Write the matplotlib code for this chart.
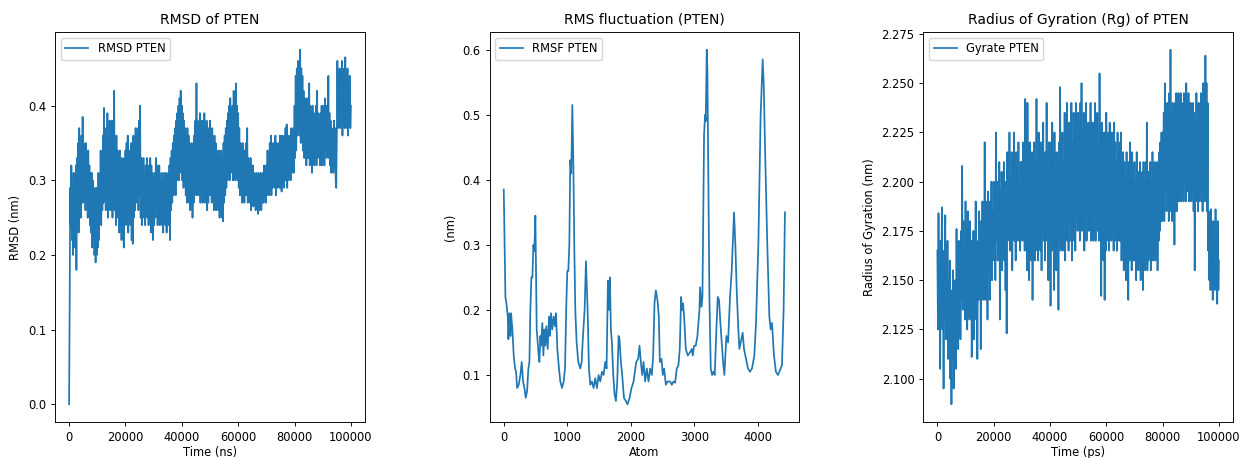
import matplotlib
matplotlib.use("Agg")
import matplotlib.pyplot as plt
import numpy as np

# ---------------- data ----------------
rmsd_step = 200  # ns between samples
rmsd_values = [
    0.00, 0.13, 0.29, 0.24, 0.32, 0.22, 0.30, 0.20, 0.31, 0.23, 0.30, 0.21, 0.32, 0.18, 0.33, 0.24, 0.35, 0.23, 0.37, 0.26, 0.34, 0.25, 0.36, 0.27, 0.385,
    0.27, 0.35, 0.28, 0.34, 0.26, 0.35, 0.28, 0.33, 0.25, 0.34, 0.27, 0.32, 0.24, 0.31, 0.23, 0.31, 0.21, 0.30, 0.22, 0.29, 0.20, 0.28, 0.19, 0.29, 0.20,
    0.29, 0.21, 0.31, 0.22, 0.30, 0.25, 0.34, 0.24, 0.33, 0.26, 0.36, 0.27, 0.397, 0.28, 0.35, 0.26, 0.37, 0.27, 0.39, 0.25, 0.36, 0.27, 0.38, 0.26, 0.37,
    0.26, 0.38, 0.25, 0.36, 0.27, 0.42, 0.26, 0.35, 0.24, 0.36, 0.25, 0.34, 0.26, 0.33, 0.23, 0.34, 0.24, 0.32, 0.22, 0.33, 0.23, 0.31, 0.21, 0.33, 0.24,
    0.34, 0.25, 0.35, 0.24, 0.36, 0.23, 0.34, 0.26, 0.33, 0.24, 0.35, 0.22, 0.34, 0.215, 0.36, 0.25, 0.35, 0.26, 0.37, 0.27, 0.36, 0.28, 0.37, 0.26, 0.38,
    0.28, 0.40, 0.25, 0.33, 0.24, 0.32, 0.26, 0.33, 0.25, 0.31, 0.24, 0.32, 0.26, 0.33, 0.25, 0.32, 0.24, 0.31, 0.25, 0.33, 0.23, 0.32, 0.25, 0.31, 0.22,
    0.30, 0.24, 0.31, 0.25, 0.33, 0.26, 0.32, 0.24, 0.31, 0.25, 0.32, 0.24, 0.30, 0.26, 0.31, 0.24, 0.30, 0.23, 0.31, 0.25, 0.30, 0.24, 0.31, 0.23, 0.30,
    0.25, 0.31, 0.24, 0.32, 0.22, 0.33, 0.26, 0.34, 0.27, 0.35, 0.28, 0.36, 0.29, 0.37, 0.28, 0.38, 0.30, 0.39, 0.31, 0.40, 0.30, 0.41, 0.32, 0.42, 0.31,
    0.40, 0.30, 0.39, 0.29, 0.38, 0.30, 0.37, 0.28, 0.36, 0.27, 0.37, 0.28, 0.36, 0.27, 0.35, 0.26, 0.34, 0.27, 0.35, 0.25, 0.34, 0.27, 0.36, 0.28, 0.38,
    0.29, 0.43, 0.28, 0.38, 0.29, 0.37, 0.28, 0.39, 0.27, 0.37, 0.29, 0.38, 0.27, 0.36, 0.28, 0.39, 0.27, 0.37, 0.28, 0.38, 0.26, 0.36, 0.27, 0.37, 0.28,
    0.38, 0.28, 0.36, 0.27, 0.37, 0.28, 0.35, 0.26, 0.36, 0.27, 0.35, 0.26, 0.34, 0.27, 0.33, 0.26, 0.34, 0.25, 0.33, 0.26, 0.34, 0.25, 0.33, 0.245, 0.35,
    0.27, 0.36, 0.28, 0.37, 0.29, 0.38, 0.30, 0.39, 0.31, 0.40, 0.30, 0.41, 0.31, 0.39, 0.32, 0.40, 0.30, 0.42, 0.31, 0.41, 0.30, 0.43, 0.31, 0.40, 0.30,
    0.39, 0.29, 0.37, 0.28, 0.35, 0.29, 0.34, 0.27, 0.35, 0.28, 0.33, 0.27, 0.34, 0.28, 0.35, 0.28, 0.37, 0.27, 0.33, 0.28, 0.32, 0.27, 0.33, 0.26, 0.32,
    0.27, 0.32, 0.265, 0.31, 0.27, 0.30, 0.26, 0.31, 0.27, 0.30, 0.255, 0.31, 0.26, 0.30, 0.27, 0.31, 0.26, 0.30, 0.27, 0.31, 0.27, 0.32, 0.28, 0.31, 0.27,
    0.32, 0.28, 0.34, 0.29, 0.33, 0.28, 0.35, 0.29, 0.36, 0.28, 0.34, 0.29, 0.35, 0.30, 0.34, 0.29, 0.36, 0.28, 0.35, 0.29, 0.34, 0.30, 0.35, 0.29, 0.36,
    0.29, 0.35, 0.285, 0.36, 0.30, 0.35, 0.29, 0.36, 0.30, 0.37, 0.30, 0.375, 0.29, 0.36, 0.30, 0.35, 0.31, 0.36, 0.30, 0.37, 0.31, 0.36, 0.32, 0.37, 0.31,
    0.40, 0.33, 0.44, 0.34, 0.45, 0.36, 0.46, 0.37, 0.44, 0.36, 0.475, 0.35, 0.45, 0.36, 0.44, 0.34, 0.42, 0.33, 0.41, 0.34, 0.40, 0.32, 0.41, 0.33, 0.39,
    0.33, 0.43, 0.32, 0.40, 0.34, 0.39, 0.31, 0.40, 0.33, 0.38, 0.32, 0.39, 0.33, 0.40, 0.32, 0.42, 0.33, 0.39, 0.34, 0.38, 0.32, 0.39, 0.33, 0.40, 0.32,
    0.40, 0.33, 0.39, 0.32, 0.41, 0.34, 0.40, 0.33, 0.38, 0.34, 0.44, 0.33, 0.39, 0.32, 0.38, 0.31, 0.37, 0.32, 0.36, 0.31, 0.38, 0.32, 0.37, 0.30, 0.29,
    0.36, 0.46, 0.37, 0.44, 0.38, 0.45, 0.37, 0.43, 0.38, 0.46, 0.36, 0.44, 0.39, 0.45, 0.37, 0.465, 0.38, 0.44, 0.37, 0.45, 0.36, 0.43, 0.38, 0.44, 0.37,
    0.40,
]

rmsf_atoms = [
    0, 26, 42, 63, 73, 89, 105, 115, 136, 157, 178, 194, 210, 236, 262, 283,
    304, 325, 346, 367, 388, 404, 419, 435, 451, 467, 477, 488, 498, 509, 519,
    535, 550, 561, 577, 587, 608, 624, 640, 655, 671, 692, 713, 729, 744, 765,
    786, 807, 823, 844, 870, 891, 917, 944, 965, 986, 1001, 1017, 1033, 1048,
    1064, 1080, 1096, 1111, 1127, 1148, 1174, 1206, 1227, 1248, 1274, 1295,
    1311, 1321, 1342, 1363, 1389, 1415, 1442, 1468, 1494, 1520, 1547, 1573,
    1599, 1620, 1641, 1657, 1672, 1688, 1704, 1725, 1746, 1767, 1788, 1809,
    1824, 1845, 1866, 1893, 1924, 1950, 1982, 2013, 2045, 2087, 2118, 2139,
    2160, 2181, 2202, 2228, 2254, 2281, 2307, 2333, 2354, 2375, 2396, 2422,
    2443, 2459, 2485, 2506, 2527, 2553, 2579, 2621, 2647, 2674, 2700, 2726,
    2752, 2773, 2794, 2810, 2826, 2847, 2868, 2899, 2936, 2962, 2978, 2999,
    3025, 3051, 3083, 3093, 3114, 3130, 3156, 3172, 3182, 3198, 3208, 3224,
    3240, 3261, 3282, 3303, 3324, 3350, 3371, 3392, 3413, 3434, 3455, 3476,
    3507, 3534, 3565, 3591, 3628, 3649, 3670, 3696, 3712, 3733, 3764, 3785,
    3817, 3848, 3879, 3911, 3948, 3974, 4011, 4047, 4079, 4095, 4121, 4152,
    4184, 4205, 4226, 4257, 4288, 4320, 4362, 4383, 4409, 4430,
]
rmsf_values = [
    0.385, 0.22, 0.21, 0.19, 0.155, 0.195, 0.16, 0.195, 0.17, 0.13, 0.11,
    0.105, 0.08, 0.085, 0.10, 0.12, 0.09, 0.08, 0.065, 0.075, 0.11, 0.12,
    0.20, 0.25, 0.25, 0.30, 0.29, 0.31, 0.345, 0.25, 0.17, 0.15, 0.13, 0.12,
    0.16, 0.145, 0.18, 0.13, 0.17, 0.145, 0.175, 0.14, 0.19, 0.16, 0.195,
    0.17, 0.19, 0.175, 0.195, 0.14, 0.11, 0.09, 0.08, 0.09, 0.11, 0.21, 0.26,
    0.26, 0.30, 0.43, 0.41, 0.515, 0.43, 0.30, 0.20, 0.15, 0.12, 0.11, 0.12,
    0.16, 0.20, 0.275, 0.23, 0.20, 0.11, 0.085, 0.09, 0.08, 0.095, 0.08,
    0.10, 0.09, 0.105, 0.10, 0.12, 0.11, 0.245, 0.20, 0.25, 0.17, 0.15, 0.10,
    0.07, 0.06, 0.09, 0.16, 0.155, 0.12, 0.10, 0.065, 0.06, 0.055, 0.065,
    0.08, 0.09, 0.12, 0.125, 0.145, 0.12, 0.10, 0.12, 0.09, 0.11, 0.09,
    0.11, 0.10, 0.13, 0.21, 0.23, 0.215, 0.19, 0.12, 0.125, 0.10, 0.11,
    0.085, 0.09, 0.09, 0.085, 0.09, 0.088, 0.11, 0.115, 0.14, 0.22, 0.20,
    0.21, 0.18, 0.14, 0.13, 0.135, 0.14, 0.13, 0.145, 0.145, 0.16, 0.20,
    0.235, 0.205, 0.22, 0.47, 0.50, 0.49, 0.60, 0.57, 0.40, 0.22, 0.11, 0.10,
    0.105, 0.10, 0.17, 0.22, 0.215, 0.18, 0.15, 0.12, 0.10, 0.16, 0.15, 0.22,
    0.26, 0.35, 0.30, 0.23, 0.17, 0.14, 0.15, 0.165, 0.14, 0.125, 0.11,
    0.105, 0.11, 0.13, 0.18, 0.30, 0.50, 0.585, 0.55, 0.43, 0.30, 0.19, 0.17,
    0.18, 0.13, 0.105, 0.10, 0.11, 0.115, 0.20, 0.35,
]

rg_step = 200  # ps between samples
rg_values = [
    2.165, 2.125, 2.184, 2.135, 2.16, 2.105, 2.17, 2.14, 2.187, 2.125, 2.155, 2.095, 2.165, 2.13, 2.183, 2.12, 2.158, 2.135, 2.17, 2.11, 2.15, 2.125, 2.16, 2.10, 2.145,
    2.087, 2.14, 2.11, 2.155, 2.095, 2.13, 2.12, 2.15, 2.105, 2.176, 2.13, 2.155, 2.115, 2.17, 2.135, 2.16, 2.12, 2.175, 2.14, 2.208, 2.135, 2.18, 2.145, 2.165, 2.13,
    2.19, 2.14, 2.17, 2.125, 2.185, 2.15, 2.165, 2.13, 2.18, 2.145, 2.17, 2.111, 2.16, 2.14, 2.175, 2.12, 2.165, 2.145, 2.19, 2.13, 2.17, 2.11, 2.16, 2.14, 2.185,
    2.145, 2.18, 2.115, 2.17, 2.15, 2.19, 2.14, 2.175, 2.155, 2.22, 2.14, 2.19, 2.16, 2.18, 2.13, 2.195, 2.155, 2.185, 2.14, 2.19, 2.165, 2.20, 2.15, 2.185, 2.165,
    2.20, 2.16, 2.19, 2.15, 2.225, 2.17, 2.20, 2.16, 2.19, 2.175, 2.21, 2.13, 2.195, 2.165, 2.205, 2.155, 2.19, 2.17, 2.21, 2.16, 2.195, 2.145, 2.20, 2.123, 2.215,
    2.17, 2.21, 2.18, 2.225, 2.165, 2.20, 2.175, 2.215, 2.155, 2.205, 2.18, 2.225, 2.17, 2.20, 2.16, 2.215, 2.18, 2.205, 2.17, 2.22, 2.175, 2.20, 2.165, 2.21, 2.18,
    2.21, 2.17, 2.22, 2.18, 2.205, 2.165, 2.242, 2.175, 2.21, 2.155, 2.24, 2.18, 2.205, 2.15, 2.22, 2.17, 2.20, 2.16, 2.215, 2.14, 2.205, 2.17, 2.22, 2.16, 2.21,
    2.165, 2.242, 2.175, 2.21, 2.16, 2.225, 2.18, 2.205, 2.165, 2.22, 2.155, 2.21, 2.175, 2.23, 2.17, 2.20, 2.16, 2.215, 2.18, 2.24, 2.17, 2.21, 2.15, 2.22, 2.175,
    2.21, 2.137, 2.22, 2.165, 2.23, 2.175, 2.205, 2.145, 2.225, 2.17, 2.20, 2.155, 2.215, 2.175, 2.21, 2.135, 2.22, 2.17, 2.248, 2.165, 2.215, 2.18, 2.225, 2.165, 2.21,
    2.17, 2.235, 2.16, 2.215, 2.18, 2.24, 2.17, 2.21, 2.165, 2.23, 2.18, 2.215, 2.17, 2.24, 2.16, 2.22, 2.175, 2.235, 2.17, 2.21, 2.165, 2.24, 2.18, 2.225, 2.175,
    2.235, 2.18, 2.22, 2.17, 2.24, 2.185, 2.25, 2.175, 2.225, 2.18, 2.235, 2.165, 2.22, 2.185, 2.24, 2.17, 2.225, 2.18, 2.23, 2.175, 2.22, 2.185, 2.24, 2.17, 2.23,
    2.175, 2.23, 2.17, 2.215, 2.185, 2.24, 2.17, 2.225, 2.18, 2.235, 2.175, 2.22, 2.17, 2.255, 2.175, 2.225, 2.142, 2.23, 2.165, 2.215, 2.16, 2.225, 2.14, 2.21, 2.165,
    2.235, 2.17, 2.215, 2.18, 2.225, 2.165, 2.23, 2.18, 2.21, 2.17, 2.225, 2.175, 2.215, 2.165, 2.23, 2.18, 2.22, 2.17, 2.21, 2.165, 2.225, 2.175, 2.215, 2.17, 2.22,
    2.17, 2.225, 2.16, 2.205, 2.165, 2.215, 2.155, 2.21, 2.17, 2.20, 2.15, 2.215, 2.165, 2.205, 2.14, 2.21, 2.16, 2.22, 2.165, 2.20, 2.155, 2.215, 2.165, 2.205, 2.16,
    2.21, 2.16, 2.20, 2.15, 2.215, 2.165, 2.20, 2.155, 2.205, 2.16, 2.21, 2.15, 2.20, 2.165, 2.205, 2.145, 2.21, 2.16, 2.20, 2.155, 2.21, 2.165, 2.23, 2.155, 2.205,
    2.16, 2.205, 2.165, 2.21, 2.155, 2.20, 2.165, 2.215, 2.16, 2.20, 2.17, 2.21, 2.16, 2.205, 2.165, 2.21, 2.155, 2.20, 2.17, 2.215, 2.175, 2.22, 2.18, 2.225, 2.18,
    2.225, 2.19, 2.235, 2.18, 2.25, 2.195, 2.235, 2.185, 2.24, 2.19, 2.23, 2.18, 2.245, 2.195, 2.267, 2.185, 2.235, 2.18, 2.24, 2.19, 2.235, 2.168, 2.24, 2.185, 2.245,
    2.185, 2.24, 2.195, 2.245, 2.19, 2.235, 2.20, 2.245, 2.19, 2.24, 2.195, 2.235, 2.19, 2.245, 2.20, 2.24, 2.19, 2.25, 2.195, 2.235, 2.20, 2.245, 2.19, 2.24, 2.195,
    2.24, 2.19, 2.23, 2.195, 2.24, 2.185, 2.235, 2.155, 2.23, 2.19, 2.245, 2.195, 2.23, 2.185, 2.24, 2.19, 2.235, 2.195, 2.245, 2.19, 2.24, 2.185, 2.25, 2.195, 2.245,
    2.19, 2.264, 2.195, 2.25, 2.185, 2.24, 2.165, 2.185, 2.15, 2.175, 2.145, 2.186, 2.155, 2.175, 2.14, 2.18, 2.15, 2.17, 2.145, 2.186, 2.15, 2.175, 2.138, 2.18, 2.145,
    2.16,
]

# ---------------- figure ----------------
S = 0.83
plt.rcParams.update({
    "font.size": 10 * S,
    "axes.titlesize": 12 * S,
    "axes.linewidth": 0.8 * S,
    "axes.labelpad": 1.5,
    "lines.linewidth": 1.5 * S,
    "xtick.major.size": 3.5 * S,
    "ytick.major.size": 3.5 * S,
    "xtick.major.width": 0.8 * S,
    "ytick.major.width": 0.8 * S,
    "legend.fontsize": 10 * S,
})

fig = plt.figure(figsize=(12.43, 4.58), dpi=100)
W, H = 1243.0, 458.0
def add_ax(l, r, t, b):
    return fig.add_axes([l / W, 1 - b / H, (r - l) / W, (b - t) / H])

ax1 = add_ax(55, 365, 32, 422)
ax2 = add_ax(489.7, 799, 32, 422)
ax3 = add_ax(923.3, 1233, 32, 422)

t_rmsd = np.arange(len(rmsd_values)) * rmsd_step
ax1.plot(t_rmsd, rmsd_values, color="#1f77b4", label="RMSD PTEN")
ax1.set_title("RMSD of PTEN")
ax1.set_xlabel("Time (ns)")
ax1.set_ylabel("RMSD (nm)", labelpad=4)
ax1.legend(loc="upper left")

ax2.plot(rmsf_atoms, rmsf_values, color="#1f77b4", label="RMSF PTEN")
ax2.set_title("RMS fluctuation (PTEN)")
ax2.set_xlabel("Atom")
ax2.set_ylabel("(nm)", labelpad=4)
ax2.legend(loc="upper left")

t_rg = np.arange(len(rg_values)) * rg_step
ax3.plot(t_rg, rg_values, color="#1f77b4", label="Gyrate PTEN")
ax3.set_title("Radius of Gyration (Rg) of PTEN")
ax3.set_xlabel("Time (ps)")
ax3.set_ylabel("Radius of Gyration (nm)", labelpad=4)
ax3.legend(loc="upper left")

fig.savefig("out.png", dpi=100)
